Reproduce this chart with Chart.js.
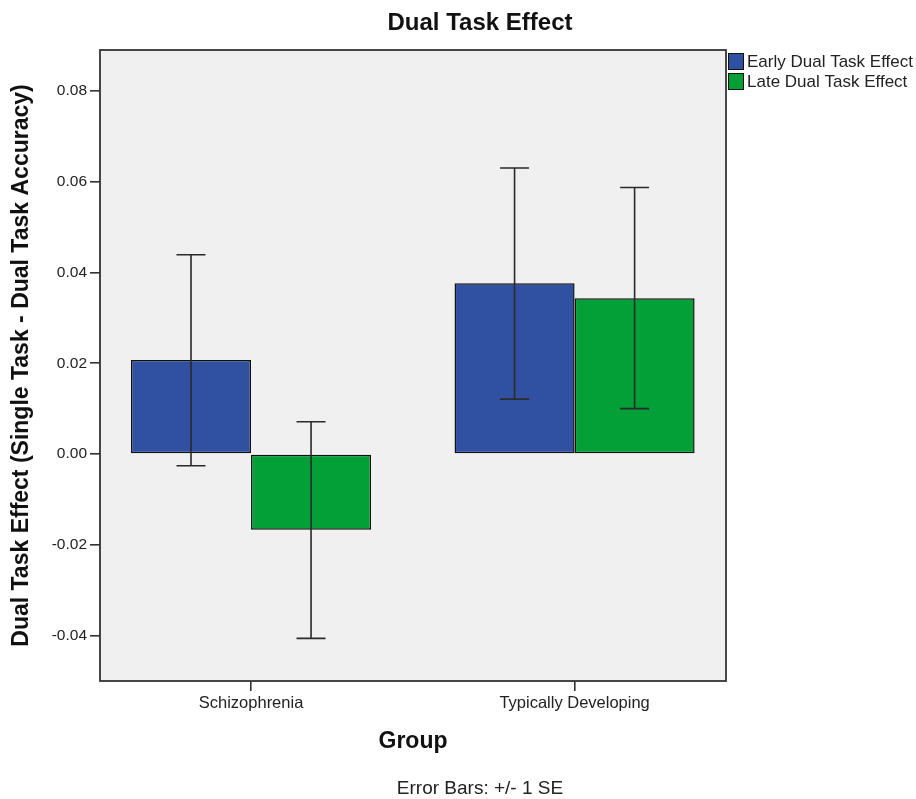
<!DOCTYPE html>
<html><head><meta charset="utf-8">
<script src="https://cdn.jsdelivr.net/npm/chart.js@4/dist/chart.umd.min.js"></script>
<style>html,body{margin:0;padding:0;background:#fff;}#wrap{width:916px;height:799px;position:relative}</style>
</head><body><div id="wrap"><canvas id="c" width="916" height="799"></canvas></div>
<script>
const categories = ['Schizophrenia', 'Typically Developing'];
const seriesNames = ['Early Dual Task Effect', 'Late Dual Task Effect'];
const earlyMeans = [0.0207, 0.0376];
const lateMeans = [-0.0167, 0.0343];
const earlyErrLow = [-0.0026, 0.0121];
const earlyErrHigh = [0.0439, 0.0630];
const lateErrLow = [-0.0406, 0.0100];
const lateErrHigh = [0.0071, 0.0587];
const yTicks = [-0.04, -0.02, 0.00, 0.02, 0.04, 0.06, 0.08];
const chartTitle = 'Dual Task Effect';
const yTitle = 'Dual Task Effect (Single Task - Dual Task Accuracy)';
const xTitle = 'Group';
const footnote = 'Error Bars: +/- 1 SE';

const errLow = [earlyErrLow, lateErrLow];
const errHigh = [earlyErrHigh, lateErrHigh];
const colors = ['#3050a2', '#02a036'];
const FONT = '"Liberation Sans", Arial, sans-serif';

const decor = {
  id: 'decor',
  beforeDatasetsDraw(chart) {
    const {ctx, chartArea: a} = chart;
    ctx.save();
    ctx.fillStyle = '#f0f0f0';
    ctx.fillRect(a.left, a.top, a.right - a.left, a.bottom - a.top);
    ctx.restore();
  },
  afterDatasetsDraw(chart) {
    const {ctx} = chart;
    const ys = chart.scales.y;
    ctx.save();
    ctx.strokeStyle = '#2a2a2a';
    ctx.lineWidth = 1.6;
    chart.data.datasets.forEach((ds, d) => {
      const meta = chart.getDatasetMeta(d);
      meta.data.forEach((el, i) => {
        const x = el.x;
        const y1 = ys.getPixelForValue(errLow[d][i]);
        const y2 = ys.getPixelForValue(errHigh[d][i]);
        ctx.beginPath();
        ctx.moveTo(x, y1); ctx.lineTo(x, y2);
        ctx.moveTo(x - 14.5, y1); ctx.lineTo(x + 14.5, y1);
        ctx.moveTo(x - 14.5, y2); ctx.lineTo(x + 14.5, y2);
        ctx.stroke();
      });
    });
    ctx.restore();
  },
  afterDraw(chart) {
    const {ctx, chartArea: a} = chart;
    ctx.save();
    ctx.strokeStyle = '#333';
    ctx.lineWidth = 1.8;
    ctx.strokeRect(a.left, a.top, a.right - a.left, a.bottom - a.top);
    ctx.fillStyle = '#111';
    ctx.textAlign = 'center';
    ctx.textBaseline = 'middle';
    ctx.font = 'bold 24px ' + FONT;
    ctx.fillText(chartTitle, 480, 23);
    ctx.fillStyle = '#222';
    ctx.font = '19px ' + FONT;
    ctx.fillText(footnote, 480, 789);
    ctx.textAlign = 'left';
    ctx.font = '17px ' + FONT;
    chart.data.datasets.forEach((ds, d) => {
      const y = 53 + d * 20;
      ctx.fillStyle = ds.backgroundColor;
      ctx.fillRect(728, y, 16, 17);
      ctx.strokeStyle = '#111';
      ctx.lineWidth = 1;
      ctx.strokeRect(728.5, y + 0.5, 15, 16);
      ctx.fillStyle = '#222';
      ctx.fillText(ds.label, 747, y + 9);
    });
    ctx.restore();
  }
};

new Chart(document.getElementById('c'), {
  type: 'bar',
  data: {
    datasets: [
      { label: seriesNames[0], data: earlyMeans.map((v, i) => ({x: i, y: v})), backgroundColor: colors[0] },
      { label: seriesNames[1], data: lateMeans.map((v, i) => ({x: i, y: v})), backgroundColor: colors[1] }
    ]
  },
  options: {
    responsive: false,
    animation: false,
    devicePixelRatio: 1,
    layout: { padding: { top: 50, right: 190, bottom: 0, left: 0 } },
    datasets: { bar: { categoryPercentage: 0.742, barPercentage: 1, borderWidth: 1.5, borderColor: '#111', borderSkipped: false } },
    plugins: { legend: { display: false }, title: { display: false }, tooltip: { enabled: false } },
    scales: {
      x: {
        type: 'linear',
        offset: false,
        min: -0.4668,
        max: 1.468,
        afterBuildTicks: s => { s.ticks = categories.map((c, i) => ({value: i})); },
        afterFit: s => { s.height = 118; },
        ticks: { callback: (v, i) => categories[Math.round(v)], color: '#222', font: { family: FONT, size: 16.5 }, padding: 3, maxRotation: 0, autoSkip: false },
        grid: { offset: false, drawOnChartArea: false, drawTicks: true, tickLength: 10, color: '#333', lineWidth: 1.6 },
        border: { display: false },
        title: { display: true, text: xTitle, color: '#111', font: { family: FONT, size: 23, weight: 'bold' }, padding: { top: 0, bottom: 44 } }
      },
      y: {
        min: -0.05,
        max: 0.089,
        afterBuildTicks: s => { s.ticks = yTicks.map(v => ({value: v})); },
        afterFit: s => { s.width = 100; },
        ticks: { callback: v => v.toFixed(2), color: '#222', font: { family: FONT, size: 15.5 }, padding: 3 },
        grid: { drawOnChartArea: false, drawTicks: true, tickLength: 10, color: '#333', lineWidth: 1.6 },
        border: { display: false },
        title: { display: true, text: yTitle, color: '#111', font: { family: FONT, size: 23, weight: 'bold' }, padding: { top: 8, bottom: 0 } }
      }
    }
  },
  plugins: [decor]
});
</script></body></html>
